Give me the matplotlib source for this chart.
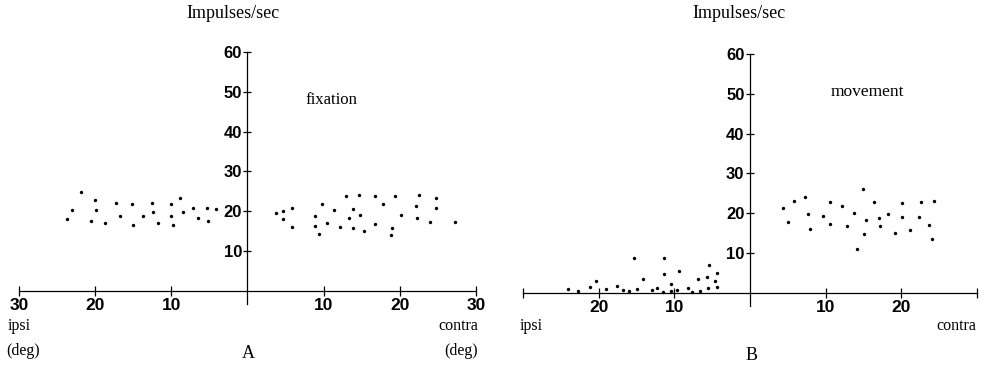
import matplotlib.pyplot as plt
from matplotlib.ticker import FuncFormatter

# Panel A - fixation. Ipsi side given as positive degrees, drawn to the left.
fix_ipsi_deg = [23.7, 23.0, 21.8, 20.0, 19.9, 20.6, 18.7, 17.2, 16.7, 15.2, 15.0, 13.7,
                12.6, 12.4, 11.8, 10.1, 10.0, 9.8, 8.8, 8.5, 7.2, 6.5, 5.3, 5.2, 4.2]
fix_ipsi_rate = [17.9, 20.4, 24.9, 22.7, 20.2, 17.5, 17.1, 22.0, 18.8, 21.7, 16.4, 18.8,
                 22.1, 19.8, 17.0, 21.9, 18.8, 16.4, 23.4, 19.8, 20.9, 18.2, 20.8, 17.6, 20.5]
fix_contra_deg = [3.7, 4.7, 4.7, 5.8, 5.9, 8.8, 8.9, 9.4, 9.8, 10.5, 11.3, 12.1, 12.9,
                  13.3, 13.8, 13.8, 14.7, 14.8, 15.3, 16.7, 16.7, 17.8, 19.0, 18.9, 19.4,
                  20.1, 22.1, 22.3, 22.5, 24.0, 24.7, 24.8, 27.3]
fix_contra_rate = [19.4, 20.1, 17.9, 20.9, 16.0, 18.8, 16.3, 14.2, 21.9, 17.1, 20.2, 15.9,
                   23.9, 18.2, 20.5, 15.8, 24.1, 19.1, 15.1, 23.7, 16.7, 21.7, 15.8, 13.9,
                   23.7, 18.9, 21.2, 18.2, 24.1, 17.3, 23.2, 20.9, 17.2]

# Panel B - movement
mov_ipsi_deg = [24.0, 22.7, 21.2, 20.4, 19.0, 17.6, 16.8, 16.0, 15.3, 15.0, 14.2, 13.0,
                12.3, 11.5, 11.3, 11.3, 10.5, 10.4, 9.7, 9.4, 8.2, 7.7, 6.9, 6.6, 5.7,
                5.5, 5.4, 4.6, 4.4, 4.3]
mov_ipsi_rate = [0.9, 0.5, 1.3, 3.0, 0.8, 1.7, 0.6, 0.5, 8.7, 0.9, 3.4, 0.7, 1.2, 0.1,
                 8.8, 4.6, 2.2, 0.5, 0.6, 5.5, 1.1, 0.1, 3.3, 0.5, 4.0, 1.1, 7.0, 2.8,
                 1.4, 4.9]
mov_contra_deg = [4.4, 5.0, 5.8, 7.3, 7.7, 7.9, 9.7, 10.6, 10.6, 12.2, 12.8, 13.8, 14.1,
                  14.9, 15.1, 15.3, 16.4, 17.0, 17.2, 18.3, 19.1, 20.1, 20.1, 21.1, 22.3,
                  22.6, 23.6, 24.0, 24.3]
mov_contra_rate = [21.2, 17.8, 23.1, 24.0, 19.8, 16.1, 19.3, 22.9, 17.3, 21.9, 16.8, 19.9,
                   10.9, 26.1, 14.8, 18.2, 22.9, 18.8, 16.7, 19.8, 15.0, 22.5, 19.1, 15.8,
                   19.1, 22.8, 16.9, 13.6, 23.1]

y_ticks = [10, 20, 30, 40, 50, 60]
x_ticks = [-30, -20, -10, 10, 20, 30]
W, H = 995, 374

NUM_FAMILY = ['Liberation Sans', 'DejaVu Sans']
SERIF = ['Liberation Serif', 'DejaVu Serif']

fig = plt.figure(figsize=(W / 100, H / 100), dpi=100)


def make_axes(x0, x1, y0):
    # x0, x1: pixel positions of -30 / +30; y0: pixel row of rate 0
    ppu = 3.97
    ylo, yhi = -5, 61
    bottom = H - (y0 + (0 - ylo) * ppu)
    height = (yhi - ylo) * ppu
    ax = fig.add_axes([x0 / W, bottom / H, (x1 - x0) / W, height / H])
    ax.set_xlim(-30, 30)
    ax.set_ylim(ylo, yhi)
    ax.patch.set_alpha(0)
    for s in ['top', 'right']:
        ax.spines[s].set_visible(False)
    ax.spines['left'].set_position(('data', 0))
    ax.spines['bottom'].set_position(('data', 0))
    ax.spines['left'].set_bounds(-3.5, 60)
    ax.spines['bottom'].set_bounds(-30, 30)
    for s in ['left', 'bottom']:
        ax.spines[s].set_linewidth(0.9)
    ax.set_yticks(y_ticks)
    ax.set_xticks(x_ticks)
    ax.tick_params(axis='y', direction='inout', length=6, width=0.9, pad=1)
    ax.tick_params(axis='x', direction='inout', length=6.5, width=0.9, pad=2)
    return ax


def style_labels(ax):
    for lab in ax.get_xticklabels():
        lab.set_family(NUM_FAMILY)
        lab.set_weight('bold')
        lab.set_size(12.5)
    for lab in ax.get_yticklabels():
        lab.set_family(NUM_FAMILY)
        lab.set_weight('bold')
        lab.set_size(12)


# Panel A
axA = make_axes(19, 476, 290.5)
axA.scatter([-d for d in fix_ipsi_deg], fix_ipsi_rate, s=6, color='black', linewidths=0)
axA.scatter(fix_contra_deg, fix_contra_rate, s=6, color='black', linewidths=0)
axA.xaxis.set_major_formatter(FuncFormatter(lambda v, p: f"{abs(v):.0f}"))
style_labels(axA)

# Panel B
axB = make_axes(523, 977, 292.5)
axB.scatter([-d for d in mov_ipsi_deg], mov_ipsi_rate, s=6, color='black', linewidths=0)
axB.scatter(mov_contra_deg, mov_contra_rate, s=6, color='black', linewidths=0)
axB.xaxis.set_major_formatter(
    FuncFormatter(lambda v, p: "" if abs(v) == 30 else f"{abs(v):.0f}"))
style_labels(axB)


def ftext(x, y, s, ha='center', size=11.5):
    fig.text(x / W, 1 - y / H, s, ha=ha, va='center', family=SERIF, size=size)


ftext(233, 14, 'Impulses/sec', size=13)
ftext(331, 100, 'fixation', size=12)
ftext(8, 326, 'ipsi', ha='left')
ftext(6, 351, '(deg)', ha='left')
ftext(478, 326, 'contra', ha='right')
ftext(478, 351, '(deg)', ha='right')
ftext(248, 353, 'A', size=13)

ftext(739, 14, 'Impulses/sec', size=13)
ftext(867, 92, 'movement', size=12.5)
ftext(520, 326, 'ipsi', ha='left')
ftext(976, 326, 'contra', ha='right')
ftext(752, 355, 'B', size=13)

fig.savefig('out.png', dpi=100)
